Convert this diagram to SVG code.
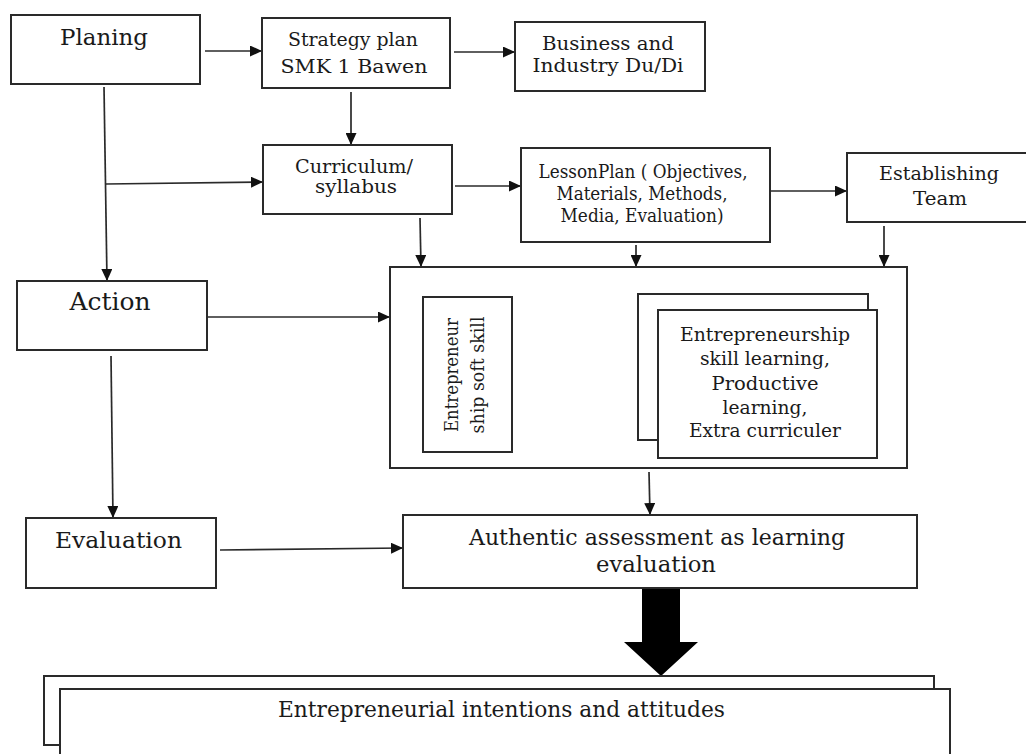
<svg xmlns="http://www.w3.org/2000/svg" width="1026" height="754" viewBox="0 0 1026 754">
<style>
.box{fill:#fff;stroke:#2a2a2a;stroke-width:2}
.c{fill:none;stroke:#2a2a2a;stroke-width:1.7}
.t{font-family:"DejaVu Serif","Liberation Serif",serif;fill:#1a1a1a;text-anchor:middle}
</style>
<defs>
<marker id="ah" markerUnits="userSpaceOnUse" markerWidth="13" markerHeight="11" refX="12" refY="5.5" orient="auto">
<path d="M0,0 L12,5.5 L0,11 z" fill="#111"/>
</marker>
</defs>
<rect width="1026" height="754" fill="#fff"/>
<g id="connectors">
<line class="c" x1="205" y1="51" x2="262" y2="51" marker-end="url(#ah)"/>
<line class="c" x1="454" y1="52" x2="515" y2="52" marker-end="url(#ah)"/>
<line class="c" x1="351" y1="92" x2="351" y2="145" marker-end="url(#ah)"/>
<line class="c" x1="104" y1="87" x2="107" y2="281" marker-end="url(#ah)"/>
<line class="c" x1="106" y1="184" x2="263" y2="182" marker-end="url(#ah)"/>
<line class="c" x1="455" y1="186" x2="521" y2="186" marker-end="url(#ah)"/>
<line class="c" x1="770" y1="191" x2="847" y2="191" marker-end="url(#ah)"/>
<line class="c" x1="420" y1="218" x2="421" y2="267" marker-end="url(#ah)"/>
<line class="c" x1="636" y1="245" x2="636" y2="267" marker-end="url(#ah)"/>
<line class="c" x1="884" y1="226" x2="884" y2="267" marker-end="url(#ah)"/>
<line class="c" x1="208" y1="317" x2="390" y2="317" marker-end="url(#ah)"/>
<line class="c" x1="111" y1="356" x2="113" y2="518" marker-end="url(#ah)"/>
<line class="c" x1="513" y1="378" x2="636" y2="378" marker-end="url(#ah)"/>
<line class="c" x1="649" y1="472" x2="650" y2="515" marker-end="url(#ah)"/>
<line class="c" x1="220" y1="550" x2="403" y2="548" marker-end="url(#ah)"/>
<polygon points="642,588 680,588 680,642 698,642 661,676 624,642 642,642" fill="#000"/>
</g>
<g id="planing">
<rect class="box" x="11" y="15" width="189" height="69"/>
<text class="t" x="104" y="45" font-size="23" textLength="88" lengthAdjust="spacingAndGlyphs">Planing</text>
</g>
<g id="strategy">
<rect class="box" x="262" y="18" width="188" height="70"/>
<text class="t" x="353" y="46" font-size="19" textLength="130" lengthAdjust="spacingAndGlyphs">Strategy plan</text>
<text class="t" x="354" y="73" font-size="19" textLength="147" lengthAdjust="spacingAndGlyphs">SMK 1 Bawen</text>
</g>
<g id="business">
<rect class="box" x="515" y="22" width="190" height="69"/>
<text class="t" x="608" y="50" font-size="19" textLength="132" lengthAdjust="spacingAndGlyphs">Business and</text>
<text class="t" x="608" y="72" font-size="19" textLength="151" lengthAdjust="spacingAndGlyphs">Industry Du/Di</text>
</g>
<g id="curriculum">
<rect class="box" x="263" y="145" width="189" height="69"/>
<text class="t" x="354" y="173" font-size="19" textLength="118" lengthAdjust="spacingAndGlyphs">Curriculum/</text>
<text class="t" x="356" y="193" font-size="19" textLength="82" lengthAdjust="spacingAndGlyphs">syllabus</text>
</g>
<g id="lessonplan">
<rect class="box" x="521" y="148" width="249" height="94"/>
<text class="t" x="643" y="178" font-size="18" textLength="209" lengthAdjust="spacingAndGlyphs">LessonPlan ( Objectives,</text>
<text class="t" x="642" y="200" font-size="18" textLength="171" lengthAdjust="spacingAndGlyphs">Materials, Methods,</text>
<text class="t" x="642" y="222" font-size="18" textLength="163" lengthAdjust="spacingAndGlyphs">Media, Evaluation)</text>
</g>
<g id="establishing">
<rect class="box" x="847" y="153" width="200" height="69"/>
<text class="t" x="939" y="180" font-size="19" textLength="120" lengthAdjust="spacingAndGlyphs">Establishing</text>
<text class="t" x="940" y="205" font-size="19" textLength="54" lengthAdjust="spacingAndGlyphs">Team</text>
</g>
<g id="action">
<rect class="box" x="17" y="281" width="190" height="69"/>
<text class="t" x="110" y="310" font-size="24" textLength="81" lengthAdjust="spacingAndGlyphs">Action</text>
</g>
<g id="implementation">
<rect class="box" x="390" y="267" width="517" height="201"/>
</g>
<g id="softskill">
<rect class="box" x="423" y="297" width="89" height="155"/>
<text class="t" transform="translate(458,375) rotate(-90)" font-size="18" textLength="114" lengthAdjust="spacingAndGlyphs">Entrepreneur</text>
<text class="t" transform="translate(484,375) rotate(-90)" font-size="18" textLength="117" lengthAdjust="spacingAndGlyphs">ship soft skill</text>
</g>
<g id="learning">
<rect class="box" x="638" y="294" width="230" height="146"/>
<rect class="box" x="658" y="310" width="219" height="148"/>
<text class="t" x="765" y="341" font-size="19" textLength="170" lengthAdjust="spacingAndGlyphs">Entrepreneurship</text>
<text class="t" x="765" y="365" font-size="19" textLength="130" lengthAdjust="spacingAndGlyphs">skill learning,</text>
<text class="t" x="765" y="390" font-size="19" textLength="107" lengthAdjust="spacingAndGlyphs">Productive</text>
<text class="t" x="765" y="414" font-size="19" textLength="85" lengthAdjust="spacingAndGlyphs">learning,</text>
<text class="t" x="765" y="437" font-size="19" textLength="152" lengthAdjust="spacingAndGlyphs">Extra curriculer</text>
</g>
<g id="evaluation">
<rect class="box" x="26" y="518" width="190" height="70"/>
<text class="t" x="118.5" y="548" font-size="23" textLength="127" lengthAdjust="spacingAndGlyphs">Evaluation</text>
</g>
<g id="authentic">
<rect class="box" x="403" y="515" width="514" height="73"/>
<text class="t" x="657" y="545" font-size="22" textLength="376" lengthAdjust="spacingAndGlyphs">Authentic assessment as learning</text>
<text class="t" x="656" y="572" font-size="22" textLength="120" lengthAdjust="spacingAndGlyphs">evaluation</text>
</g>
<g id="intentions">
<rect class="box" x="44" y="676" width="890" height="69"/>
<rect class="box" x="60" y="689" width="890" height="80"/>
<text class="t" x="501.5" y="717" font-size="22" textLength="447" lengthAdjust="spacingAndGlyphs">Entrepreneurial intentions and attitudes</text>
</g>
</svg>
